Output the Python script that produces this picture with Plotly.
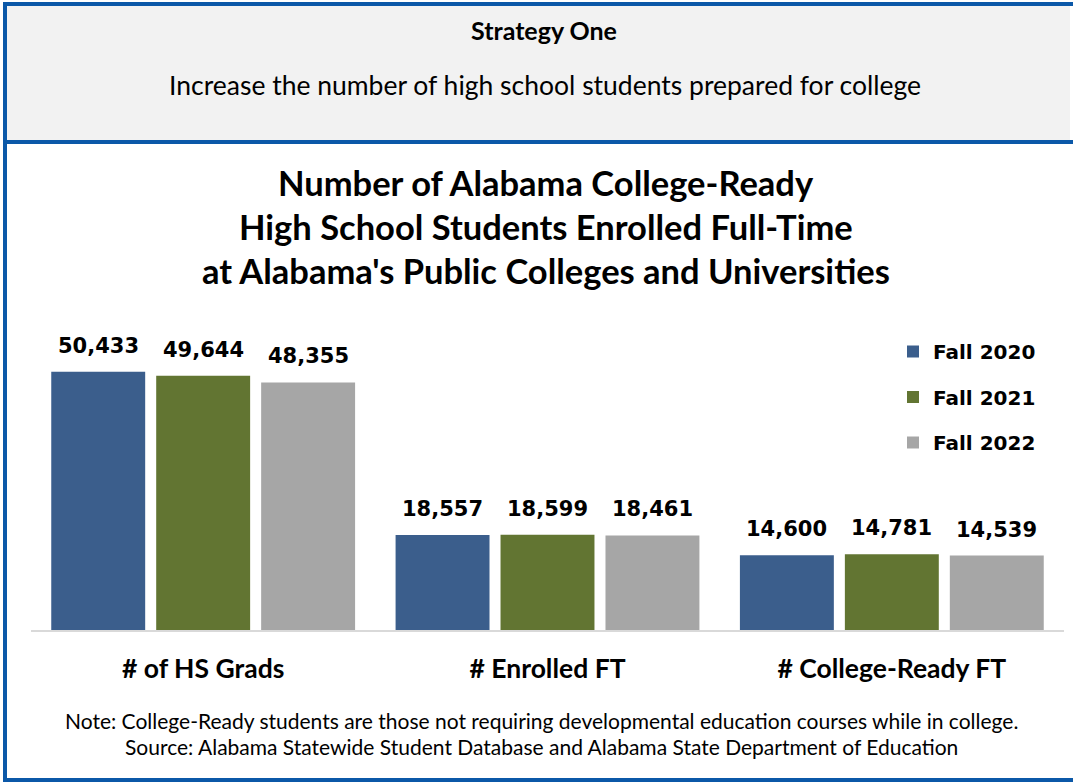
"""Strategy One chart: Alabama college-ready high school students, grouped bars."""

import plotly.graph_objects as go

W, H = 1073, 782

categories = ["# of HS Grads", "# Enrolled FT", "# College-Ready FT"]
fall_2020 = [50433, 18557, 14600]
fall_2021 = [49644, 18599, 14781]
fall_2022 = [48355, 18461, 14539]
series_names = ["Fall 2020", "Fall 2021", "Fall 2022"]
title_lines = [
    "Number of Alabama College-Ready",
    "High School Students Enrolled Full-Time",
    "at Alabama's Public Colleges and Universities",
]

_COLORS = ["#3B5E8C", "#627532", "#A6A6A6"]
_BORDER = "#0B58A8"
_LABEL_FONT = "DejaVu Sans"
_TEXT_FONT = "Lato"
_BAR_PITCH = 105  # px between neighbouring bars inside a group


def fx(px):
    return px / W


def fy(py):
    return 1 - py / H


fig = go.Figure()
series = [fall_2020, fall_2021, fall_2022]
for i, (name, vals) in enumerate(zip(series_names, series)):
    fig.add_trace(go.Bar(
        name=name,
        x=categories,
        y=vals,
        marker_color=_COLORS[i],
        marker_line_width=0,
        legendgroup=name,
    ))

# header box and frame
shapes = [
    dict(type="rect", x0=fx(7), x1=fx(1070), y0=fy(6), y1=fy(140),
         fillcolor="#F2F2F2", line_width=0, layer="below"),
    dict(type="rect", x0=fx(3), x1=fx(7), y0=fy(2), y1=fy(782),
         fillcolor=_BORDER, line_width=0),
    dict(type="rect", x0=fx(3), x1=fx(1073), y0=fy(2), y1=fy(6),
         fillcolor=_BORDER, line_width=0),
    dict(type="rect", x0=fx(3), x1=fx(1073), y0=fy(140), y1=fy(144),
         fillcolor=_BORDER, line_width=0),
    dict(type="rect", x0=fx(3), x1=fx(1073), y0=fy(778), y1=fy(782),
         fillcolor=_BORDER, line_width=0),
]
for s in shapes:
    s.update(xref="paper", yref="paper")

annotations = [
    dict(text="<b>Strategy One</b>", x=fx(544), y=fy(30),
         font=dict(family=_TEXT_FONT, size=25, color="black")),
    dict(text="Increase the number of high school students prepared for college",
         x=fx(545), y=fy(85), font=dict(family=_TEXT_FONT, size=26.5, color="black")),
    dict(text="Note: College-Ready students are those not requiring developmental "
              "education courses while in college.",
         x=fx(541), y=fy(720), font=dict(family=_TEXT_FONT, size=21, color="black")),
    dict(text="Source: Alabama Statewide Student Database and Alabama State "
              "Department of Education",
         x=fx(541), y=fy(746), font=dict(family=_TEXT_FONT, size=21, color="black")),
]
for line, ypx in zip(title_lines, [183, 226.5, 270]):
    annotations.append(dict(
        text=f"<b>{line}</b>", x=fx(546), y=fy(ypx),
        font=dict(family=_TEXT_FONT, size=34.5, color="black"),
    ))
for a in annotations:
    a.update(xref="paper", yref="paper", showarrow=False,
             xanchor="center", yanchor="middle")

# value labels sit well above the bars, so place them as data annotations
for i, vals in enumerate(series):
    for cat, v in zip(categories, vals):
        annotations.append(dict(
            x=cat, y=v, xref="x", yref="y",
            text=f"<b>{v:,}</b>", showarrow=False,
            xanchor="center", yanchor="bottom",
            xshift=(i - 1) * _BAR_PITCH, yshift=12,
            font=dict(family=_LABEL_FONT, size=21, color="black"),
        ))

fig.update_layout(
    width=W, height=H,
    margin=dict(l=0, r=0, t=0, b=0),
    paper_bgcolor="white",
    plot_bgcolor="white",
    barmode="group",
    bargap=0.0856,
    bargroupgap=0.105,
    shapes=shapes,
    annotations=annotations,
    showlegend=True,
    legend=dict(
        x=fx(893), y=fy(332), xanchor="left", yanchor="top",
        font=dict(family=_LABEL_FONT, size=20, color="black", weight=700),
        tracegroupgap=16.5,
        bgcolor="rgba(0,0,0,0)",
    ),
    xaxis=dict(
        domain=[fx(31), fx(1064)],
        showline=True, linecolor="#D9D9D9", linewidth=2,
        showgrid=False, zeroline=False,
        tickfont=dict(family=_TEXT_FONT, size=26.5, color="black", weight=700),
        ticklabelstandoff=14,
        fixedrange=True,
    ),
    yaxis=dict(
        domain=[fy(630), fy(330)],
        range=[0, 58600],
        visible=False,
        fixedrange=True,
    ),
)

# page margin off so the figure sits at the window origin
fig.write_html(
    "out.html",
    config={"displayModeBar": False},
    post_script="document.body.style.margin='0';",
)
